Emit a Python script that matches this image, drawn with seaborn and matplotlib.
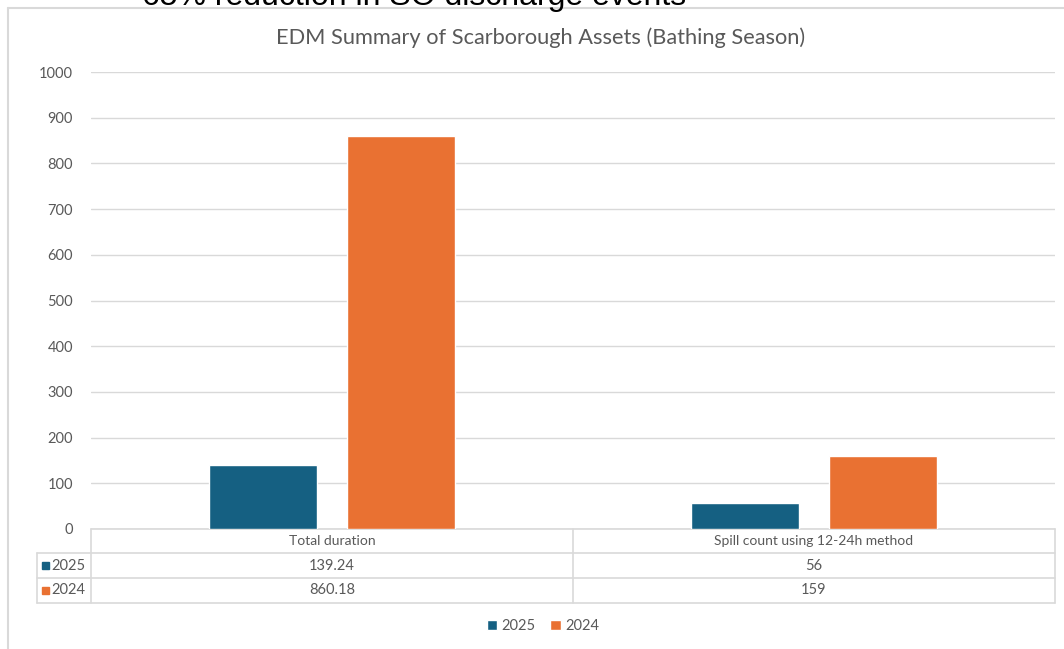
import pandas as pd
import seaborn as sns
import matplotlib.pyplot as plt

# data
categories = ['Total duration', 'Spill count using 12-24h method']
years = ['2025', '2024']
values_2025 = [139.24, 56]
values_2024 = [860.18, 159]
colors = ['#156082', '#E97132']

df = pd.DataFrame({
    'metric': categories * 2,
    'year': [years[0]] * 2 + [years[1]] * 2,
    'value': values_2025 + values_2024,
})

sns.set_style('white')
plt.rcParams['font.family'] = ['Lato', 'DejaVu Sans']

W, H = 1064, 649
fig = plt.figure(figsize=(W / 100, H / 100), dpi=100)

# overlay in pixel coords for the chart frame and data table
over = fig.add_axes([0, 0, 1, 1])
over.set_xlim(0, W)
over.set_ylim(H, 0)
over.axis('off')

grey = '#D9D9D9'
txt = '#595959'

# chart frame (cut off at the right and bottom)
over.plot([8, 8], [8, H], color=grey, lw=1.5)
over.plot([8, W], [8, 8], color=grey, lw=1.5)

# slide text above the chart, cut off by the top edge as in the original
over.text(414, 5, '65% reduction in SO discharge events', ha='center', va='baseline',
          fontsize=23, color='black', family=['Liberation Sans', 'DejaVu Sans'])

# main plot area
left, right, top, bottom = 91, 1055, 72, 529
ax = fig.add_axes([left / W, 1 - bottom / H, (right - left) / W, (bottom - top) / H])
ax.patch.set_alpha(0)
sns.barplot(data=df, x='metric', y='value', hue='year', hue_order=years,
            palette=colors, width=0.573, gap=0.217, saturation=1, ax=ax)
ax.set_ylim(0, 1000)
ax.set_yticks(range(0, 1001, 100))
ax.yaxis.grid(True, color=grey, lw=1)
ax.set_axisbelow(True)
for s in ax.spines.values():
    s.set_visible(False)
ax.set_xticks([])
ax.set_xlabel('')
ax.set_ylabel('')
ax.tick_params(axis='y', length=0, pad=13, labelsize=10.5, labelcolor=txt)
handles, labels = ax.get_legend_handles_labels()
ax.get_legend().remove()

over.text(541, 38, 'EDM Summary of Scarborough Assets (Bathing Season)',
          ha='center', va='center', fontsize=15.7, color=txt)

# data table under the axis
rows = [529, 553, 578, 603]
col_x = [37, 91, 573, 1055]
over.plot([91, 1055], [529, 529], color=grey, lw=1.2)
for y in rows[1:]:
    over.plot([37, 1055], [y, y], color=grey, lw=1.2)
over.plot([37, 37], [553, 603], color=grey, lw=1.2)
for x in col_x[1:]:
    over.plot([x, x], [529, 603], color=grey, lw=1.2)

for i, cat in enumerate(categories):
    cx = (col_x[i + 1] + col_x[i + 2]) / 2
    over.text(cx, 541, cat, ha='center', va='center', fontsize=10, color=txt)
    for j, vals in enumerate([values_2025, values_2024]):
        over.text(cx, (rows[j + 1] + rows[j + 2]) / 2, f'{vals[i]:g}',
                  ha='center', va='center', fontsize=10.5, color=txt)

for j, yr in enumerate(years):
    yc = (rows[j + 1] + rows[j + 2]) / 2
    over.add_patch(plt.Rectangle((42, yc - 3.5), 7, 7, color=colors[j]))
    over.text(51, yc, yr, ha='left', va='center', fontsize=10.5, color=txt)

fig.legend(handles, labels, loc='center', bbox_to_anchor=(543 / W, 1 - 626 / H),
           ncol=2, frameon=False, fontsize=10.5, labelcolor=txt,
           handlelength=0.7, handleheight=0.7, handletextpad=0.3, columnspacing=1.0)

fig.savefig('out.png', dpi=100)
